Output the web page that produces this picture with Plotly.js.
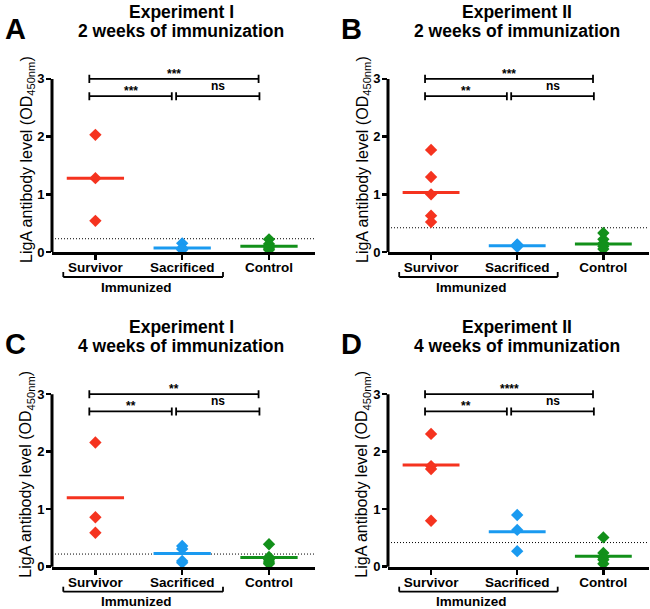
<!DOCTYPE html>
<html>
<head>
<meta charset="utf-8">
<script src="https://cdn.plot.ly/plotly-3.0.1.min.js"></script>
<style>
  body { margin: 0; background: #fff; }
  #plot { width: 650px; height: 609px; }
</style>
</head>
<body>
<div id="plot"></div>
<script>
// groups
const groups = ["Survivor", "Sacrificed", "Control"];
const colors = ["#f5331f", "#1a9af0", "#12901a"];

// panel A - Experiment I, 2 weeks
const survA = [2.03, 1.28, 0.54];
const sacA = [0.15, 0.07, 0.05, 0.04];
const ctrlA = [0.22, 0.14, 0.10, 0.07, 0.04];
const medA = [1.28, 0.07, 0.10];
const cutA = 0.23;
const starsA = ["***", "***", "ns"];

// panel B - Experiment II, 2 weeks
const survB = [1.77, 1.30, 1.00, 0.63, 0.52];
const sacB = [0.13, 0.11, 0.09, 0.12];
const ctrlB = [0.33, 0.22, 0.15, 0.10, 0.05];
const medB = [1.03, 0.11, 0.14];
const cutB = 0.42;
const starsB = ["***", "**", "ns"];

// panel C - Experiment I, 4 weeks
const survC = [2.16, 0.86, 0.59];
const sacC = [0.36, 0.31, 0.10, 0.07];
const ctrlC = [0.39, 0.17, 0.12, 0.08, 0.05];
const medC = [1.20, 0.23, 0.16];
const cutC = 0.22;
const starsC = ["**", "**", "ns"];

// panel D - Experiment II, 4 weeks
const survD = [2.31, 1.75, 1.70, 0.80];
const sacD = [0.90, 0.64, 0.27];
const ctrlD = [0.51, 0.24, 0.16, 0.12, 0.05];
const medD = [1.77, 0.61, 0.18];
const cutD = 0.42;
const starsD = ["****", "**", "ns"];

const W = 650, H = 609;
const FONT = "Liberation Sans, Arial, sans-serif";

const panels = [
  { letter: "A", exp: "Experiment I", weeks: "2 weeks of immunization",
    data: [survA, sacA, ctrlA], med: medA, cut: cutA, stars: starsA,
    xd: [52, 315], y0: 252, unit: 57.7 },
  { letter: "B", exp: "Experiment II", weeks: "2 weeks of immunization",
    data: [survB, sacB, ctrlB], med: medB, cut: cutB, stars: starsB,
    xd: [388, 649], y0: 252, unit: 57.7 },
  { letter: "C", exp: "Experiment I", weeks: "4 weeks of immunization",
    data: [survC, sacC, ctrlC], med: medC, cut: cutC, stars: starsC,
    xd: [52, 315], y0: 566.7, unit: 57.5 },
  { letter: "D", exp: "Experiment II", weeks: "4 weeks of immunization",
    data: [survD, sacD, ctrlD], med: medD, cut: cutD, stars: starsD,
    xd: [388, 649], y0: 566.7, unit: 57.5 }
];

const YTOP = 3.35;
const traces = [];
const shapes = [];
const annotations = [];
const layout = {
  width: W, height: H,
  margin: { l: 0, r: 0, t: 0, b: 0 },
  paper_bgcolor: "#fff", plot_bgcolor: "rgba(0,0,0,0)",
  showlegend: false,
  font: { family: FONT, color: "#000" }
};

const py = px => (H - px) / H;   // pixel-y -> paper
const pxx = px => px / W;        // pixel-x -> paper

panels.forEach((p, k) => {
  const n = k + 1;
  const xa = "x" + (n === 1 ? "" : n), ya = "y" + (n === 1 ? "" : n);
  const xKey = "xaxis" + (n === 1 ? "" : n), yKey = "yaxis" + (n === 1 ? "" : n);
  const topPx = p.y0 - YTOP * p.unit;

  layout[xKey] = {
    domain: [pxx(p.xd[0]), pxx(p.xd[1])],
    range: [0.5, 3.53],
    anchor: ya,
    tickvals: [1, 2, 3], ticktext: groups,
    ticks: "outside", ticklen: 5, tickwidth: 2.5, tickcolor: "#000",
    ticklabelstandoff: -4,
    showline: true, linewidth: 3, linecolor: "#000",
    showgrid: false, zeroline: false,
    tickfont: { family: FONT, size: 13.5, weight: "bold", color: "#000" },
    fixedrange: true
  };
  layout[yKey] = {
    domain: [py(p.y0), py(topPx)],
    range: [0, YTOP],
    anchor: xa,
    tickvals: [0, 1, 2, 3],
    ticks: "outside", ticklen: 5, tickwidth: 2.5, tickcolor: "#000",
    ticklabelstandoff: -1,
    showline: false, showgrid: false, zeroline: false,
    tickfont: { family: FONT, size: 13, weight: "bold", color: "#000" },
    fixedrange: true
  };

  // y axis line only up to 3
  shapes.push({ type: "line", xref: xa + " domain", yref: ya,
    x0: 0, x1: 0, y0: -0.02, y1: 3, line: { color: "#000", width: 3 } });

  // cut-off dotted line
  shapes.push({ type: "line", xref: xa + " domain", yref: ya, layer: "below",
    x0: 0, x1: 1, y0: p.cut, y1: p.cut, line: { color: "#000", width: 1, dash: "1px,2px" } });

  // points and medians
  p.data.forEach((vals, g) => {
    traces.push({
      x: vals.map(() => g + 1), y: vals, xaxis: xa, yaxis: ya,
      type: "scatter", mode: "markers", cliponaxis: false,
      marker: { symbol: "diamond", size: 9.5, color: colors[g] },
      hoverinfo: "y"
    });
    traces.push({
      x: [g + 1 - 0.33, g + 1 + 0.33], y: [p.med[g], p.med[g]], xaxis: xa, yaxis: ya,
      type: "scatter", mode: "lines",
      line: { color: colors[g], width: 3 }, hoverinfo: "skip"
    });
  });

  // significance brackets
  const capH = 0.07;
  const bars = [
    { a: 0.93, b: 2.88, y: 3.0, t: p.stars[0] },
    { a: 0.93, b: 1.88, y: 2.7, t: p.stars[1] },
    { a: 1.93, b: 2.89, y: 2.7, t: p.stars[2] }
  ];
  bars.forEach(br => {
    const ln = { color: "#000", width: 1.8 };
    shapes.push({ type: "line", xref: xa, yref: ya, x0: br.a, x1: br.b, y0: br.y, y1: br.y, line: ln });
    shapes.push({ type: "line", xref: xa, yref: ya, x0: br.a, x1: br.a, y0: br.y - capH, y1: br.y + capH, line: ln });
    shapes.push({ type: "line", xref: xa, yref: ya, x0: br.b, x1: br.b, y0: br.y - capH, y1: br.y + capH, line: ln });
    const isNs = br.t === "ns";
    annotations.push({
      xref: xa, yref: ya, x: (br.a + br.b) / 2, y: br.y,
      yanchor: "bottom", yshift: isNs ? 1 : -4, showarrow: false,
      text: br.t, font: { family: FONT, size: 12, color: "#000", weight: "bold" }
    });
  });

  // "Immunized" bracket under Survivor + Sacrificed
  const brY = p.y0 + 25;
  const immLn = { color: "#000", width: 1.8 };
  shapes.push({ type: "line", xref: xa, yref: "paper", x0: 0.63, x1: 2.47, y0: py(brY), y1: py(brY), line: immLn });
  shapes.push({ type: "line", xref: xa, yref: "paper", x0: 0.63, x1: 0.63, y0: py(brY), y1: py(brY - 5), line: immLn });
  shapes.push({ type: "line", xref: xa, yref: "paper", x0: 2.47, x1: 2.47, y0: py(brY), y1: py(brY - 5), line: immLn });
  annotations.push({
    xref: xa, yref: "paper", x: 1.47, y: py(p.y0 + 35), yanchor: "middle",
    showarrow: false, text: "Immunized",
    font: { family: FONT, size: 13.5, weight: "bold", color: "#000" }
  });

  // y title
  annotations.push({
    xref: "paper", yref: "paper", x: pxx(p.xd[0] - 25), y: py(p.y0 - 92),
    xanchor: "center", yanchor: "middle", textangle: -90, showarrow: false,
    text: "LigA antibody level (OD<sub>450nm</sub>)",
    font: { family: FONT, size: 16, color: "#000" }
  });

  // panel titles
  const cx = p.xd[0] + 129;
  const tTop = p.y0 - 240;
  annotations.push({
    xref: "paper", yref: "paper", x: pxx(cx), y: py(tTop), xanchor: "center", yanchor: "middle",
    showarrow: false, text: p.exp, font: { family: FONT, size: 17.5, weight: "bold", color: "#000" }
  });
  annotations.push({
    xref: "paper", yref: "paper", x: pxx(cx), y: py(tTop + 19), xanchor: "center", yanchor: "middle",
    showarrow: false, text: p.weeks, font: { family: FONT, size: 17.5, weight: "bold", color: "#000" }
  });
  // panel letter
  annotations.push({
    xref: "paper", yref: "paper", x: pxx(p.xd[0] - 37), y: py(p.y0 - 223), xanchor: "center", yanchor: "middle",
    showarrow: false, text: p.letter, font: { family: FONT, size: 29, weight: "bold", color: "#000" }
  });
});

layout.shapes = shapes;
layout.annotations = annotations;

Plotly.newPlot("plot", traces, layout, { displayModeBar: false, staticPlot: true });
</script>
</body>
</html>
